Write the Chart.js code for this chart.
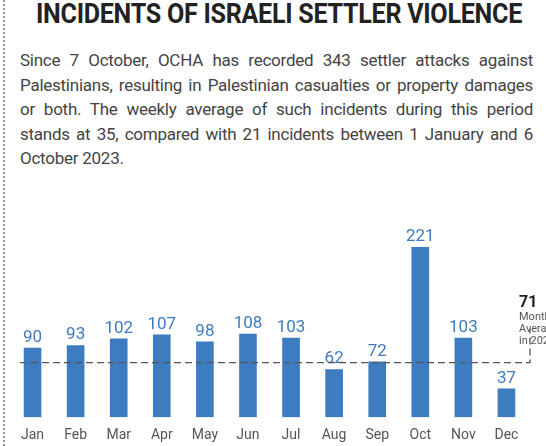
<!DOCTYPE html>
<html><head><meta charset="utf-8">
<script src="https://cdn.jsdelivr.net/npm/chart.js@4"></script>
<style>
body{margin:0;width:546px;height:446px;overflow:hidden;background:#fff;font-family:Roboto,sans-serif;position:relative}
#border{position:absolute;left:3px;top:0;bottom:0;border-left:2px dotted #999}
#title{position:absolute;left:36px;top:0px;line-height:28px;font-weight:bold;font-size:27px;color:#222;letter-spacing:-0.3px;transform:scaleX(0.93);transform-origin:left top;white-space:nowrap}
#text{position:absolute;left:20px;top:48px;width:513px;font-size:17px;line-height:24.5px;color:#444;text-align:justify;letter-spacing:-0.25px}
#wrap{position:absolute;left:0;top:200px;width:546px;height:246px}
</style></head><body>
<div id="border"></div>
<div id="title">INCIDENTS OF ISRAELI SETTLER VIOLENCE</div>
<div id="text">Since 7 October, OCHA has recorded 343 settler attacks against Palestinians, resulting in Palestinian casualties or property damages or both. The weekly average of such incidents during this period stands at 35, compared with 21 incidents between 1 January and 6 October 2023.</div>
<div id="wrap"><canvas id="c"></canvas></div>
<script>
const months = ["Jan","Feb","Mar","Apr","May","Jun","Jul","Aug","Sep","Oct","Nov","Dec"];
const incidents = [90, 93, 102, 107, 98, 108, 103, 62, 72, 221, 103, 37];
const monthlyAverage = 71;

// value labels plus dashed average line with note
const extras = {
  id: "extras",
  afterDatasetsDraw(chart) {
    const ctx = chart.ctx;
    const meta = chart.getDatasetMeta(0);
    ctx.save();
    ctx.fillStyle = "#3d7cc0";
    ctx.font = "17px Roboto";
    ctx.textAlign = "center";
    ctx.textBaseline = "bottom";
    meta.data.forEach((bar, i) => ctx.fillText(incidents[i], bar.x, bar.y - 2));
    const y = chart.scales.y.getPixelForValue(monthlyAverage);
    const xEnd = 530;
    ctx.strokeStyle = "#555";
    ctx.lineWidth = 1.3;
    ctx.setLineDash([7, 4]);
    ctx.beginPath();
    ctx.moveTo(20, y); ctx.lineTo(xEnd, y); ctx.lineTo(xEnd, y - 34);
    ctx.stroke();
    ctx.setLineDash([]);
    ctx.textAlign = "left";
    ctx.textBaseline = "alphabetic";
    ctx.fillStyle = "#222";
    ctx.font = "bold 16px Roboto";
    ctx.fillText(String(monthlyAverage), 519, y - 56);
    ctx.fillStyle = "#555";
    ctx.font = "11px Roboto";
    ctx.fillText("Monthly", 519, y - 43);
    ctx.fillText("Average", 519, y - 31);
    ctx.fillText("in 2023", 519, y - 19);
    ctx.restore();
  }
};

new Chart(document.getElementById("c"), {
  type: "bar",
  data: { labels: months, datasets: [{ data: incidents, backgroundColor: "#3d7cc0", barThickness: 17 }] },
  options: {
    responsive: true, maintainAspectRatio: false, animation: false,
    layout: { padding: { left: 11, right: 18, top: 25, bottom: 0 } },
    plugins: { legend: { display: false }, tooltip: { enabled: false } },
    scales: {
      x: { grid: { display: false }, border: { display: false },
           ticks: { color: "#555", font: { family: "Roboto", size: 14 }, padding: 2 } },
      y: { display: false, min: 0, max: 250 }
    }
  },
  plugins: [extras]
});
</script>
</body></html>
